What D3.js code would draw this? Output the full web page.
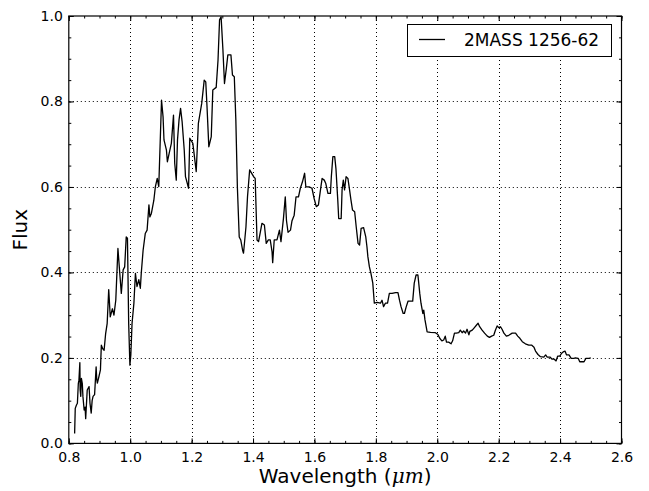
<!DOCTYPE html>
<html>
<head>
<meta charset="utf-8">
<script src="https://cdn.jsdelivr.net/npm/d3@7"></script>
<style>
    body { margin: 0; background: #fff; }
    text { font-family: "DejaVu Sans", sans-serif; }
</style>
</head>
<body>
<script>
'use strict'

// spectrum, wavelength in micron
const wavelength = [
    0.819, 0.821, 0.825, 0.828, 0.831, 0.833, 0.836, 0.837, 0.839, 0.841, 0.844, 0.846, 0.850, 0.853, 0.855, 0.860,
    0.866, 0.869, 0.873, 0.876, 0.879, 0.884, 0.889, 0.891, 0.893, 0.898, 0.903, 0.906, 0.910, 0.915, 0.920, 0.925,
    0.930, 0.935, 0.942, 0.947, 0.953, 0.960, 0.966, 0.971, 0.977, 0.982, 0.987, 0.991, 0.995, 0.999, 1.002, 1.006,
    1.012, 1.017, 1.022, 1.028, 1.033, 1.036, 1.042, 1.049, 1.055, 1.061, 1.064, 1.069, 1.077, 1.082, 1.088, 1.093,
    1.102, 1.107, 1.110, 1.118, 1.121, 1.127, 1.134, 1.141, 1.145, 1.150, 1.154, 1.159, 1.164, 1.169, 1.176, 1.180,
    1.186, 1.190, 1.194, 1.204, 1.215, 1.222, 1.233, 1.241, 1.246, 1.250, 1.256, 1.264, 1.269, 1.280, 1.286, 1.291,
    1.296, 1.302, 1.307, 1.313, 1.318, 1.328, 1.333, 1.339, 1.344, 1.349, 1.355, 1.360, 1.366, 1.369, 1.377, 1.382,
    1.389, 1.402, 1.407, 1.413, 1.418, 1.429, 1.437, 1.443, 1.450, 1.456, 1.462, 1.464, 1.469, 1.478, 1.486, 1.491,
    1.495, 1.499, 1.505, 1.509, 1.514, 1.522, 1.527, 1.534, 1.540, 1.548, 1.554, 1.561, 1.568, 1.572, 1.583, 1.592,
    1.599, 1.606, 1.613, 1.621, 1.625, 1.632, 1.637, 1.644, 1.652, 1.655, 1.660, 1.666, 1.670, 1.676, 1.679, 1.687,
    1.690, 1.694, 1.698, 1.703, 1.709, 1.713, 1.719, 1.724, 1.731, 1.736, 1.742, 1.747, 1.752, 1.760, 1.767, 1.771,
    1.774, 1.779, 1.784, 1.790, 1.795, 1.804, 1.815, 1.820, 1.825, 1.831, 1.838, 1.844, 1.853, 1.864, 1.872, 1.877,
    1.882, 1.889, 1.893, 1.899, 1.905, 1.912, 1.920, 1.925, 1.931, 1.937, 1.943, 1.947, 1.953, 1.956, 1.960, 1.967,
    1.978, 1.994, 2.002, 2.008, 2.015, 2.021, 2.026, 2.030, 2.037, 2.045, 2.050, 2.056, 2.062, 2.070, 2.075, 2.081,
    2.086, 2.092, 2.097, 2.103, 2.106, 2.114, 2.121, 2.128, 2.133, 2.138, 2.146, 2.154, 2.163, 2.170, 2.177, 2.184,
    2.189, 2.195, 2.200, 2.206, 2.211, 2.217, 2.225, 2.233, 2.244, 2.255, 2.262, 2.269, 2.277, 2.287, 2.298, 2.307,
    2.315, 2.320, 2.328, 2.336, 2.347, 2.353, 2.358, 2.367, 2.374, 2.381, 2.387, 2.392, 2.399, 2.405, 2.410, 2.416,
    2.421, 2.429, 2.436, 2.445, 2.450, 2.459, 2.464, 2.478, 2.484, 2.494, 2.500
]
const flux = [
    0.023, 0.082, 0.090, 0.094, 0.140, 0.148, 0.189, 0.125, 0.110, 0.152, 0.140, 0.110, 0.078, 0.085, 0.058, 0.125,
    0.133, 0.094, 0.071, 0.100, 0.110, 0.114, 0.179, 0.150, 0.141, 0.156, 0.172, 0.230, 0.222, 0.218, 0.257, 0.281,
    0.360, 0.296, 0.315, 0.300, 0.335, 0.456, 0.398, 0.351, 0.406, 0.413, 0.483, 0.480, 0.281, 0.183, 0.207, 0.281,
    0.328, 0.398, 0.367, 0.383, 0.363, 0.398, 0.452, 0.491, 0.499, 0.558, 0.530, 0.538, 0.569, 0.601, 0.620, 0.601,
    0.803, 0.764, 0.710, 0.686, 0.659, 0.679, 0.702, 0.768, 0.655, 0.616, 0.710, 0.757, 0.784, 0.753, 0.686, 0.624,
    0.608, 0.597, 0.714, 0.702, 0.636, 0.749, 0.796, 0.850, 0.846, 0.790, 0.694, 0.718, 0.827, 0.833, 0.897, 0.991,
    0.998, 0.920, 0.842, 0.877, 0.909, 0.909, 0.862, 0.858, 0.757, 0.600, 0.483, 0.476, 0.452, 0.445, 0.507, 0.577,
    0.640, 0.624, 0.620, 0.476, 0.472, 0.515, 0.511, 0.468, 0.476, 0.476, 0.448, 0.423, 0.476, 0.476, 0.499, 0.472,
    0.499, 0.526, 0.577, 0.521, 0.494, 0.499, 0.521, 0.534, 0.577, 0.577, 0.597, 0.612, 0.632, 0.600, 0.600, 0.597,
    0.573, 0.554, 0.558, 0.600, 0.620, 0.616, 0.608, 0.585, 0.585, 0.624, 0.671, 0.671, 0.643, 0.569, 0.526, 0.526,
    0.593, 0.616, 0.593, 0.624, 0.620, 0.600, 0.569, 0.546, 0.542, 0.507, 0.468, 0.464, 0.503, 0.505, 0.484, 0.460,
    0.437, 0.413, 0.398, 0.375, 0.328, 0.330, 0.328, 0.335, 0.320, 0.328, 0.328, 0.351, 0.351, 0.353, 0.353, 0.335,
    0.320, 0.304, 0.304, 0.320, 0.333, 0.333, 0.333, 0.375, 0.394, 0.394, 0.351, 0.328, 0.304, 0.312, 0.289, 0.261,
    0.260, 0.259, 0.255, 0.246, 0.240, 0.242, 0.251, 0.237, 0.237, 0.233, 0.240, 0.258, 0.258, 0.259, 0.265, 0.259,
    0.263, 0.258, 0.267, 0.254, 0.262, 0.265, 0.271, 0.277, 0.281, 0.273, 0.265, 0.258, 0.251, 0.248, 0.251, 0.253,
    0.264, 0.275, 0.271, 0.273, 0.267, 0.258, 0.251, 0.253, 0.258, 0.258, 0.251, 0.246, 0.238, 0.233, 0.230, 0.230,
    0.225, 0.216, 0.208, 0.203, 0.202, 0.207, 0.202, 0.202, 0.197, 0.197, 0.193, 0.204, 0.204, 0.211, 0.214, 0.216,
    0.207, 0.207, 0.199, 0.199, 0.200, 0.199, 0.191, 0.191, 0.199, 0.199, 0.200
]

const seriesName = '2MASS 1256-62'
const xTicks = [0.8, 1.0, 1.2, 1.4, 1.6, 1.8, 2.0, 2.2, 2.4, 2.6]
const yTicks = [0.0, 0.2, 0.4, 0.6, 0.8, 1.0]

const width = 649, height = 491
// plot box in pixels (top/left are taken by window, so prefix them)
const pLeft = 68.8, pRight = 621.5, pTop = 16, pBottom = 443.4

const svg = d3.select('body')
    .append('svg')
    .attr('width', width)
    .attr('height', height)

const x = d3.scaleLinear().domain([0.8, 2.6]).range([pLeft, pRight])
const y = d3.scaleLinear().domain([0, 1]).range([pBottom, pTop])

// minor ticks every 0.05
const xMinor = d3.range(0.8, 2.6001, 0.05).map(v => +v.toFixed(2))
const yMinor = d3.range(0, 1.0001, 0.05).map(v => +v.toFixed(2))

// dotted grid at the major ticks
const grid = svg.append('g')
    .attr('stroke', '#000')
    .attr('stroke-width', 1)
    .attr('stroke-dasharray', '1,3')
grid.selectAll('.gx')
    .data(xTicks.slice(1, -1))
    .enter()
    .append('line')
    .attr('x1', d => Math.round(x(d)) + 0.5)
    .attr('x2', d => Math.round(x(d)) + 0.5)
    .attr('y1', pTop)
    .attr('y2', pBottom)
grid.selectAll('.gy')
    .data(yTicks.slice(1, -1))
    .enter()
    .append('line')
    .attr('y1', d => Math.round(y(d)) + 0.5)
    .attr('y2', d => Math.round(y(d)) + 0.5)
    .attr('x1', pLeft)
    .attr('x2', pRight)

// the spectrum
const points = wavelength.map((w, i) => [w, flux[i]])
svg.append('path')
    .datum(points)
    .attr('fill', 'none')
    .attr('stroke', '#000')
    .attr('stroke-width', 1.3)
    .attr('stroke-linejoin', 'round')
    .attr('d', d3.line().x(d => x(d[0])).y(d => y(d[1])))

// axes: ticks point inwards, on all four sides
function addAxis(axisFn, scale, ticks, size, transform, labels) {
    const g = svg.append('g').attr('transform', transform)
        .call(axisFn(scale).tickValues(ticks).tickSize(size).tickFormat(labels ? d3.format('.1f') : ''))
    g.select('.domain').remove()
    g.selectAll('line').attr('stroke', '#000').attr('stroke-width', 1)
    return g
}
const bx = addAxis(d3.axisBottom, x, xTicks, -5, `translate(0,${pBottom})`, true)
bx.selectAll('text').attr('y', 9).attr('font-size', 14).attr('fill', '#000')
addAxis(d3.axisBottom, x, xMinor, -2.5, `translate(0,${pBottom})`, false)
addAxis(d3.axisTop, x, xTicks, -5, `translate(0,${pTop})`, false)
addAxis(d3.axisTop, x, xMinor, -2.5, `translate(0,${pTop})`, false)
const ly = addAxis(d3.axisLeft, y, yTicks, -5, `translate(${pLeft},0)`, true)
ly.selectAll('text').attr('x', -6).attr('font-size', 14).attr('fill', '#000')
addAxis(d3.axisLeft, y, yMinor, -2.5, `translate(${pLeft},0)`, false)
addAxis(d3.axisRight, y, yTicks, -5, `translate(${pRight},0)`, false)
addAxis(d3.axisRight, y, yMinor, -2.5, `translate(${pRight},0)`, false)

// frame
svg.append('rect')
    .attr('x', pLeft)
    .attr('y', pTop)
    .attr('width', pRight - pLeft)
    .attr('height', pBottom - pTop)
    .attr('fill', 'none')
    .attr('stroke', '#000')
    .attr('stroke-width', 1.2)

// axis titles
const xl = svg.append('text')
    .attr('x', (pLeft + pRight) / 2)
    .attr('y', 483)
    .attr('text-anchor', 'middle')
    .attr('font-size', 20)
xl.append('tspan').text('Wavelength (')
xl.append('tspan').attr('font-family', 'DejaVu Serif, serif').attr('font-style', 'italic').text('μm')
xl.append('tspan').text(')')

svg.append('text')
    .attr('transform', `translate(27,${(pTop + pBottom) / 2}) rotate(-90)`)
    .attr('text-anchor', 'middle')
    .attr('font-size', 20)
    .text('Flux')

// legend
const legend = svg.append('g')
legend.append('rect')
    .attr('x', 407.5)
    .attr('y', 24.5)
    .attr('width', 204)
    .attr('height', 32)
    .attr('fill', '#fff')
    .attr('stroke', '#000')
    .attr('stroke-width', 1)
legend.append('line')
    .attr('x1', 419)
    .attr('x2', 445)
    .attr('y1', 39.5)
    .attr('y2', 39.5)
    .attr('stroke', '#000')
    .attr('stroke-width', 1.3)
legend.append('text')
    .attr('x', 464)
    .attr('y', 46)
    .attr('font-size', 17)
    .text(seriesName)
</script>
</body>
</html>
